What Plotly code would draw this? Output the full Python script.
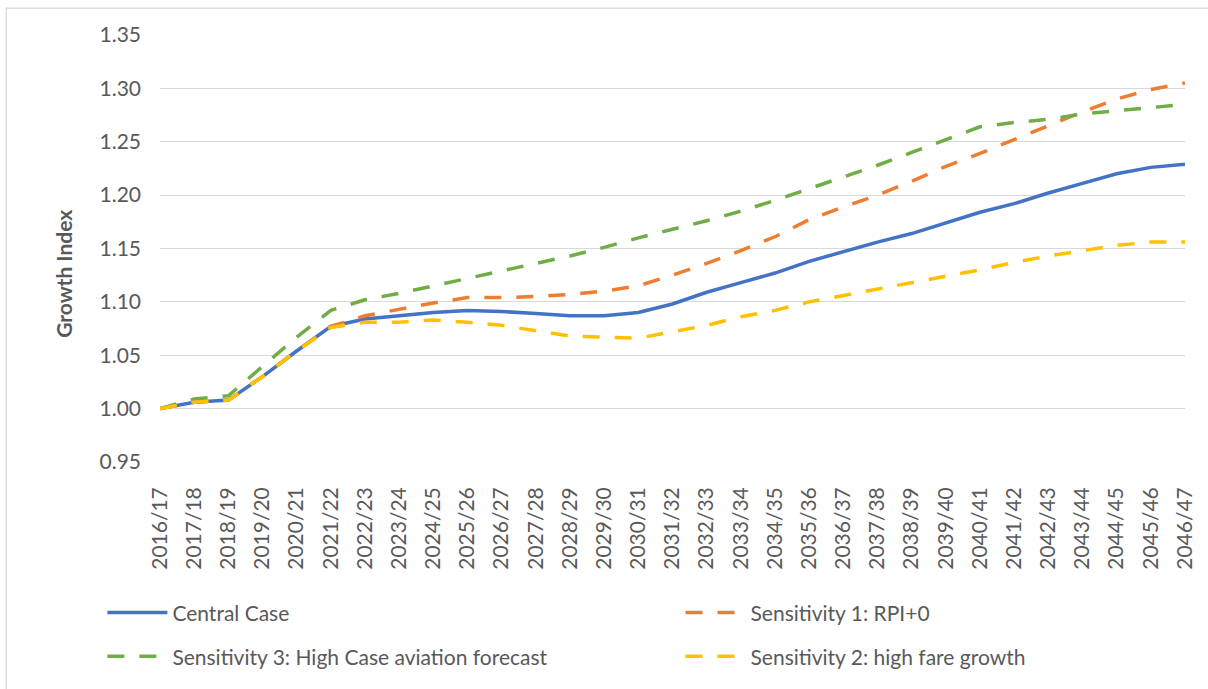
import plotly.graph_objects as go

years = [
    "2016/17", "2017/18", "2018/19", "2019/20", "2020/21", "2021/22", "2022/23",
    "2023/24", "2024/25", "2025/26", "2026/27", "2027/28", "2028/29", "2029/30",
    "2030/31", "2031/32", "2032/33", "2033/34", "2034/35", "2035/36", "2036/37",
    "2037/38", "2038/39", "2039/40", "2040/41", "2041/42", "2042/43", "2043/44",
    "2044/45", "2045/46", "2046/47",
]

central_case = [
    1.000, 1.006, 1.008, 1.030, 1.054, 1.077, 1.084, 1.087, 1.090, 1.092, 1.091,
    1.089, 1.087, 1.087, 1.090, 1.098, 1.109, 1.118, 1.127, 1.138, 1.147, 1.156,
    1.164, 1.174, 1.184, 1.192, 1.202, 1.211, 1.220, 1.226, 1.229,
]

sens1_rpi0 = [
    1.000, 1.006, 1.008, 1.030, 1.054, 1.077, 1.087, 1.093, 1.099, 1.104, 1.104,
    1.105, 1.107, 1.110, 1.115, 1.125, 1.136, 1.148, 1.161, 1.177, 1.189, 1.200,
    1.213, 1.227, 1.239, 1.252, 1.265, 1.278, 1.290, 1.299, 1.305,
]

sens3_high_aviation = [
    1.000, 1.009, 1.012, 1.040, 1.067, 1.092, 1.102, 1.108, 1.115, 1.122, 1.129,
    1.136, 1.143, 1.151, 1.160, 1.168, 1.176, 1.185, 1.195, 1.206, 1.217, 1.228,
    1.240, 1.252, 1.264, 1.268, 1.271, 1.276, 1.279, 1.282, 1.285,
]

sens2_high_fare = [
    1.000, 1.006, 1.008, 1.030, 1.054, 1.076, 1.081, 1.081, 1.083, 1.081, 1.078,
    1.073, 1.068, 1.067, 1.066, 1.072, 1.078, 1.086, 1.092, 1.100, 1.106, 1.112,
    1.118, 1.124, 1.130, 1.137, 1.143, 1.148, 1.153, 1.156, 1.156,
]

FONT = "Lato"
TEXT_GREY = "#595959"
GRID_GREY = "#D9D9D9"
DASH = "17px,15px"

# legend grid: two columns, two rows below the category labels
COL_X = [-0.0562, 0.5078]
ROW_Y = [-0.353, -0.456]

fig = go.Figure()

fig.add_trace(go.Scatter(
    x=years, y=central_case, name="Central Case", mode="lines",
    line=dict(color="#4472C4", width=3.5), legend="legend",
))
fig.add_trace(go.Scatter(
    x=years, y=sens1_rpi0, name="Sensitivity 1: RPI+0", mode="lines",
    line=dict(color="#ED7D31", width=3.5, dash=DASH), legend="legend2",
))
fig.add_trace(go.Scatter(
    x=years, y=sens3_high_aviation, name="Sensitivity 3: High Case aviation forecast",
    mode="lines", line=dict(color="#70AD47", width=3.5, dash=DASH), legend="legend3",
))
fig.add_trace(go.Scatter(
    x=years, y=sens2_high_fare, name="Sensitivity 2: high fare growth", mode="lines",
    line=dict(color="#FFC000", width=3.5, dash=DASH), legend="legend4",
))

legend_common = dict(
    orientation="h", xanchor="left", yanchor="middle",
    font=dict(family=FONT, size=21, color=TEXT_GREY),
    itemwidth=60, bgcolor="rgba(0,0,0,0)", borderwidth=0,
)

fig.update_layout(
    width=1208, height=689,
    margin=dict(l=160, r=16, t=35, b=226),
    paper_bgcolor="white", plot_bgcolor="white",
    font=dict(family=FONT, size=21, color=TEXT_GREY),
    showlegend=True,
    legend=dict(x=COL_X[0], y=ROW_Y[0], **legend_common),
    legend2=dict(x=COL_X[1], y=ROW_Y[0], **legend_common),
    legend3=dict(x=COL_X[0], y=ROW_Y[1], **legend_common),
    legend4=dict(x=COL_X[1], y=ROW_Y[1], **legend_common),
    xaxis=dict(
        type="category", tickangle=-90, showgrid=False, zeroline=False,
        showline=False, ticks="", ticklabelstandoff=20,
        tickfont=dict(family=FONT, size=21, color=TEXT_GREY),
    ),
    yaxis=dict(
        range=[0.95, 1.35], tick0=0.95, dtick=0.05, tickformat=".2f",
        showgrid=True, gridcolor=GRID_GREY, gridwidth=1.3, zeroline=False,
        showline=False, ticks="", ticklabelstandoff=18,
        tickfont=dict(family=FONT, size=21, color=TEXT_GREY),
    ),
    annotations=[dict(
        text="<b>Growth Index</b>", textangle=-90,
        xref="paper", yref="paper", x=-0.095, y=0.44,
        xanchor="center", yanchor="middle", showarrow=False,
        font=dict(family=FONT, size=21, color=TEXT_GREY),
    )],
    shapes=[dict(
        type="rect", xref="paper", yref="paper",
        x0=-0.150, y0=-1.0, x1=1.2, y1=1.063,
        line=dict(color=GRID_GREY, width=1.3), fillcolor="rgba(0,0,0,0)", layer="below",
    )],
)

fig.write_html("out.html")
